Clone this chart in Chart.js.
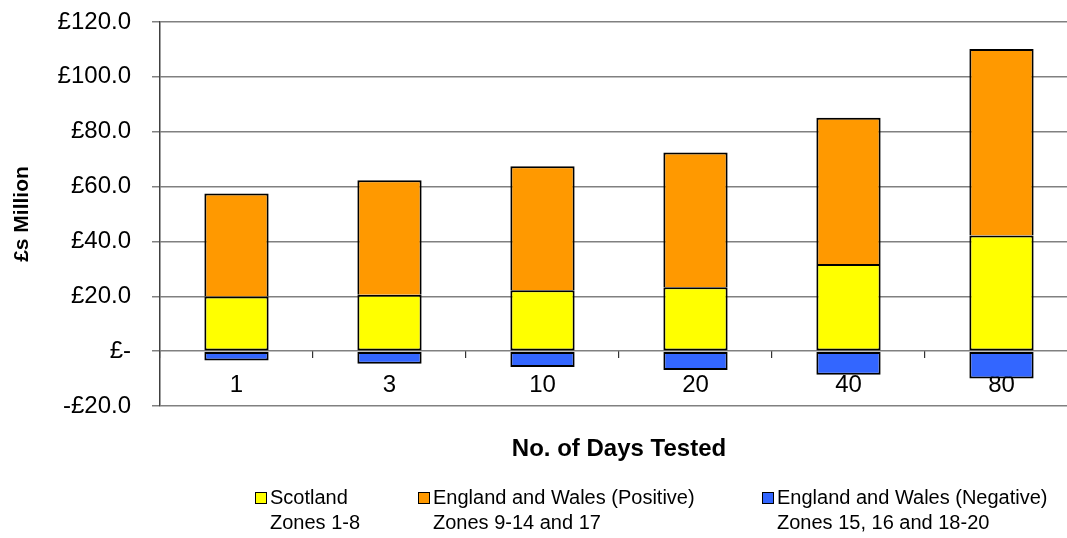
<!DOCTYPE html>
<html>
<head>
<meta charset="utf-8">
<title>Cost by number of days tested</title>
<script src="https://cdn.jsdelivr.net/npm/chart.js@4/dist/chart.umd.min.js"></script>
<style>
  html, body { margin: 0; padding: 0; background: #ffffff; overflow: hidden; }
  #wrap { width: 1080px; height: 538px; }
</style>
</head>
<body>
<div id="wrap"><canvas id="chart" width="1080" height="538"></canvas></div>
<script>
// Number of days tested (categories along the x axis)
const categories = ['1', '3', '10', '20', '40', '80'];

// £ million per zone group
const scotland   = [19.9, 20.6, 22.2, 23.3, 31.8, 42.2];
const ewPositive = [37.6, 41.7, 45.2, 49.1, 53.3, 68.0];
const ewNegative = [-3.4, -4.6, -5.8, -6.9, -8.6, -10.0];

// Legend text, two lines per series
const scotlandLabel   = ['Scotland', 'Zones 1-8'];
const ewPositiveLabel = ['England and Wales (Positive)', 'Zones 9-14 and 17'];
const ewNegativeLabel = ['England and Wales (Negative)', 'Zones 15, 16 and 18-20'];

// Value axis range
const yMin = -20;
const yMax = 120;
const yStep = 20;

const xTitle = 'No. of Days Tested';
const yTitle = '£s Million';

const FONT = '"Liberation Sans", Arial, Helvetica, sans-serif';

function poundLabel(v) {
  if (v === 0) return '£-';
  return (v < 0 ? '-£' : '£') + Math.abs(v).toFixed(1);
}

// Draws the x axis title and the two-line legend below the plot
const extrasPlugin = {
  id: 'extras',
  afterDraw(chart) {
    const ctx = chart.ctx;
    const area = chart.chartArea;
    ctx.save();
    ctx.fillStyle = '#000';
    ctx.font = 'bold 24px ' + FONT;
    ctx.textAlign = 'center';
    ctx.textBaseline = 'middle';
    ctx.fillText(xTitle, (area.left + area.right) / 2, 449);

    const items = chart.data.datasets.map(ds => ({ color: ds.backgroundColor, lines: ds.legendLines }));
    const startX = [255, 418, 762];
    ctx.font = '20px ' + FONT;
    ctx.textAlign = 'left';
    items.forEach((it, i) => {
      const x = startX[i];
      ctx.fillStyle = it.color;
      ctx.fillRect(x + 0.5, 492.5, 11, 11);
      ctx.strokeStyle = '#000';
      ctx.lineWidth = 1;
      ctx.strokeRect(x + 0.5, 492.5, 11, 11);
      ctx.fillStyle = '#000';
      it.lines.forEach((ln, j) => ctx.fillText(ln, x + 15, 498 + j * 25));
    });
    ctx.restore();
  }
};

new Chart(document.getElementById('chart'), {
  type: 'bar',
  data: {
    labels: categories,
    datasets: [
      { label: scotlandLabel.join(' '), legendLines: scotlandLabel, data: scotland,
        backgroundColor: '#FFFF00', borderColor: '#000', borderWidth: 2, borderSkipped: false },
      { label: ewPositiveLabel.join(' '), legendLines: ewPositiveLabel, data: ewPositive,
        backgroundColor: '#FF9900', borderColor: '#000',
        borderWidth: { top: 2, left: 2, right: 2, bottom: 0 }, borderSkipped: false },
      { label: ewNegativeLabel.join(' '), legendLines: ewNegativeLabel, data: ewNegative,
        backgroundColor: '#3366FF', borderColor: '#000', borderWidth: 2, borderSkipped: false }
    ]
  },
  options: {
    responsive: false,
    animation: false,
    devicePixelRatio: 1,
    layout: { padding: { left: 0, right: 2, top: 22, bottom: 132 } },
    datasets: { bar: { categoryPercentage: 1.0, barPercentage: 0.42 } },
    plugins: { legend: { display: false }, tooltip: { enabled: false } },
    scales: {
      x: {
        stacked: true,
        position: { y: 0 },
        grid: { display: true, drawOnChartArea: false, drawTicks: true, tickLength: 7,
                color: '#333', lineWidth: 1.2, offset: true },
        border: { display: false },
        ticks: { color: '#000', font: { family: FONT, size: 24 }, padding: 13, maxRotation: 0 }
      },
      y: {
        stacked: true,
        min: yMin,
        max: yMax,
        afterFit(scale) {
          scale.width = 160;
          scale.paddingTop = 0;
          scale.paddingBottom = 0;
        },
        ticks: { stepSize: yStep, color: '#000', font: { family: FONT, size: 24 }, padding: 21,
                 callback: v => poundLabel(v) },
        grid: { color: '#808080', lineWidth: 1.5, tickLength: 8, drawTicks: true },
        border: { display: true, color: '#404040', width: 1.5 },
        title: { display: true, text: yTitle, color: '#000',
                 font: { family: FONT, size: 21, weight: 'bold' }, padding: { top: 10, bottom: 0 } }
      }
    }
  },
  plugins: [extrasPlugin]
});
</script>
</body>
</html>
